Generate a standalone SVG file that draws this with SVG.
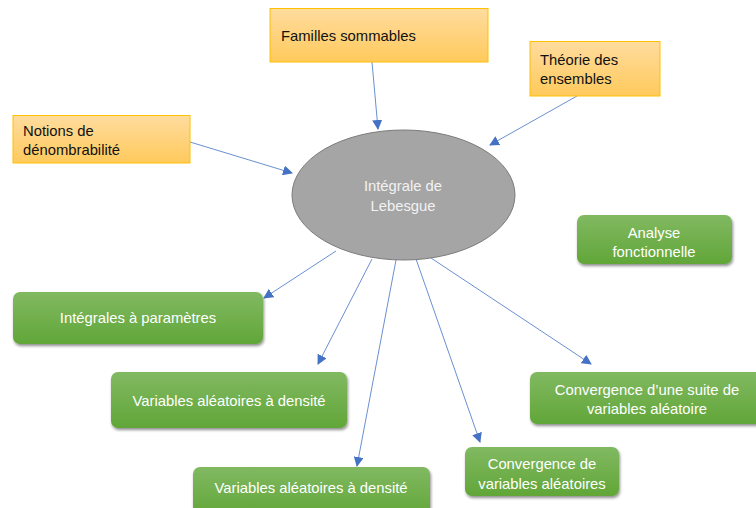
<svg xmlns="http://www.w3.org/2000/svg" width="756" height="508" viewBox="0 0 756 508">
<defs>
<linearGradient id="gOr" x1="0" y1="0" x2="0" y2="1">
<stop offset="0" stop-color="#ffdc9e"/>
<stop offset="1" stop-color="#ffca5c"/>
</linearGradient>
<linearGradient id="gGr" x1="0" y1="0" x2="0" y2="1">
<stop offset="0" stop-color="#81b962"/>
<stop offset="1" stop-color="#61a638"/>
</linearGradient>
<filter id="sh" x="-10%" y="-20%" width="120%" height="150%">
<feGaussianBlur in="SourceAlpha" stdDeviation="1.5"/>
<feOffset dx="1" dy="2" result="b"/>
<feComponentTransfer><feFuncA type="linear" slope="0.45"/></feComponentTransfer>
<feMerge><feMergeNode/><feMergeNode in="SourceGraphic"/></feMerge>
</filter>
<marker id="ar" viewBox="0 0 10 10" refX="9" refY="5" markerWidth="10" markerHeight="10" markerUnits="userSpaceOnUse" orient="auto">
<path d="M0,0 L10,5 L0,10 Z" fill="#4472c4"/>
</marker>
</defs>
<style>
.or{fill:url(#gOr);stroke:#ffc000;stroke-width:1}
.gr{fill:url(#gGr);filter:url(#sh)}
.t{font-family:"Liberation Sans",Arial,sans-serif;font-size:14.8px}
.tb{fill:#111}
.tw{fill:#ffffff;text-anchor:middle}
.c{stroke:#4472c4;stroke-width:0.8;fill:none;marker-end:url(#ar)}
</style>
<rect width="756" height="508" fill="#ffffff"/>
<g id="connectors">
<line class="c" x1="372" y1="62" x2="378" y2="129"/>
<line class="c" x1="577" y1="96" x2="490" y2="145"/>
<line class="c" x1="190" y1="142" x2="292" y2="173"/>
<line class="c" x1="336" y1="251" x2="264" y2="298"/>
<line class="c" x1="372" y1="259" x2="318" y2="364"/>
<line class="c" x1="396" y1="260" x2="357" y2="466"/>
<line class="c" x1="416" y1="259" x2="480" y2="442"/>
<line class="c" x1="431" y1="258" x2="591" y2="364"/>
</g>
<g id="familles">
<rect class="or" x="270" y="8.5" width="218" height="53.5"/>
<text class="t tb" x="281" y="41">Familles sommables</text>
</g>
<g id="theorie">
<rect class="or" x="530" y="41.5" width="130" height="54.5"/>
<text class="t tb" x="540" y="65">Théorie des</text>
<text class="t tb" x="540" y="84">ensembles</text>
</g>
<g id="notions">
<rect class="or" x="13" y="115.5" width="177" height="47.5"/>
<text class="t tb" x="23" y="136">Notions de</text>
<text class="t tb" x="23" y="155">dénombrabilité</text>
</g>
<g id="lebesgue">
<ellipse cx="403.5" cy="195" rx="111.5" ry="65" fill="#a5a5a5" stroke="#7b7b7b" stroke-width="1"/>
<text class="t tw" x="403" y="191" style="fill:#f2f2f2">Intégrale de</text>
<text class="t tw" x="403" y="211" style="fill:#f2f2f2">Lebesgue</text>
</g>
<g id="analyse">
<rect class="gr" x="577" y="215" width="155" height="49" rx="7"/>
<text class="t tw" x="654" y="238">Analyse</text>
<text class="t tw" x="654" y="257">fonctionnelle</text>
</g>
<g id="integrales">
<rect class="gr" x="13" y="292" width="250" height="52" rx="7"/>
<text class="t tw" x="138" y="323">Intégrales à paramètres</text>
</g>
<g id="var1">
<rect class="gr" x="111" y="372" width="236" height="56" rx="7"/>
<text class="t tw" x="229" y="406">Variables aléatoires à densité</text>
</g>
<g id="var2">
<rect class="gr" x="193" y="467" width="237" height="50" rx="7"/>
<text class="t tw" x="311" y="493">Variables aléatoires à densité</text>
</g>
<g id="convsuite">
<rect class="gr" x="530" y="372" width="240" height="52" rx="7"/>
<text class="t tw" x="647" y="395">Convergence d’une suite de</text>
<text class="t tw" x="647" y="414">variables aléatoire</text>
</g>
<g id="convvar">
<rect class="gr" x="465" y="447" width="154" height="49" rx="7"/>
<text class="t tw" x="542" y="469">Convergence de</text>
<text class="t tw" x="542" y="489">variables aléatoires</text>
</g>
</svg>
